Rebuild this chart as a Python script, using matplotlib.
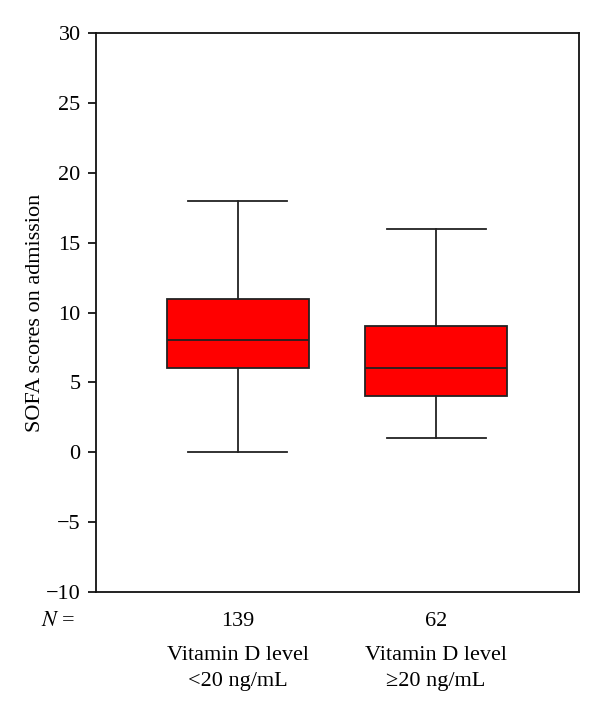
import matplotlib
matplotlib.use('Agg')
import matplotlib.pyplot as plt

# ── DATA ────────────────────────────────────────────────────────────────────
groups   = ['Vitamin D level\n<20 ng/mL', 'Vitamin D level\n≥20 ng/mL']
n_counts = [139, 62]
whislo   = [0, 1]
q1       = [6, 4]
medians  = [8, 6]
q3       = [11, 9]
whishi   = [18, 16]
yticks   = [-10, -5, 0, 5, 10, 15, 20, 25, 30]
# ─────────────────────────────────────────────────────────────────────────────

plt.rcParams['font.family'] = ['Liberation Serif', 'DejaVu Serif']
plt.rcParams['mathtext.fontset'] = 'stix'
FS = 16

fig = plt.figure(figsize=(6, 7.1), dpi=100)
ax = fig.add_axes([0.16, 0.1662, 0.805, 0.7873])

stats = []
for i in range(len(groups)):
    stats.append(dict(whislo=whislo[i], q1=q1[i], med=medians[i],
                      q3=q3[i], whishi=whishi[i], fliers=[]))

positions = [1, 2]
ax.bxp(stats, positions=positions, widths=0.717, capwidths=0.5,
       patch_artist=True, showfliers=False,
       boxprops=dict(facecolor='#ff0000', edgecolor='#222222', linewidth=1.3),
       medianprops=dict(color='#222222', linewidth=1.3),
       whiskerprops=dict(color='#222222', linewidth=1.3),
       capprops=dict(color='#222222', linewidth=1.3))

ax.set_xlim(0.283, 2.722)
ax.set_ylim(-10, 30)
ax.set_yticks(yticks)
ax.set_yticklabels([str(t).replace('-', '\u2212') for t in yticks], fontsize=FS)
ax.set_xticks([])
ax.tick_params(axis='y', direction='out', length=6, width=1.2, pad=5)
for s in ax.spines.values():
    s.set_linewidth(1.3)
    s.set_color('#111111')

ax.set_ylabel('SOFA scores on admission', fontsize=FS, labelpad=1)

# N row and group labels below the axis
trans = ax.get_xaxis_transform()
ax.text(-0.079, -0.052, '$N$ =', transform=ax.transAxes, fontsize=FS,
        ha='center', va='center')
for p, n, g in zip(positions, n_counts, groups):
    ax.text(p, -0.052, str(n), transform=trans, fontsize=FS,
            ha='center', va='center')
    ax.text(p, -0.097, g, transform=trans, fontsize=FS,
            ha='center', va='top', linespacing=1.5)

fig.savefig('out.png', dpi=100)
